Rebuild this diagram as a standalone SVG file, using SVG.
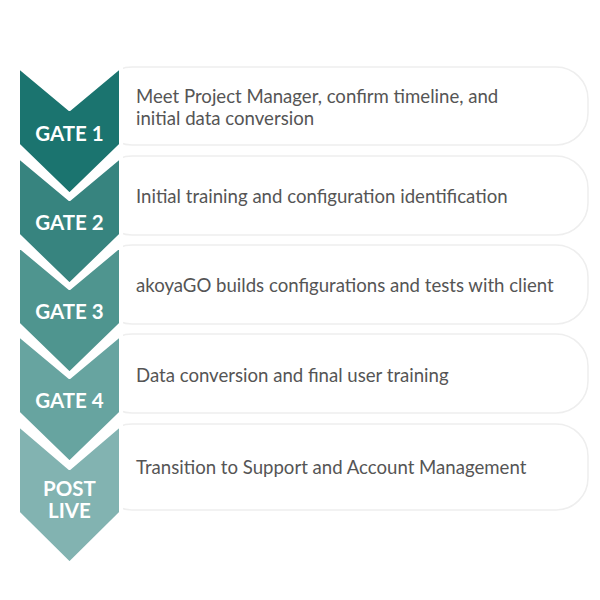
<svg xmlns="http://www.w3.org/2000/svg" width="600" height="600" viewBox="0 0 600 600">
<style>
.card{fill:#fff;stroke:#eeeeee;stroke-width:1.5}
.chev{stroke:#fff;stroke-width:4;stroke-linejoin:round}
.lbl{font-family:Lato,"Liberation Sans",sans-serif;font-weight:bold;font-size:20.5px;fill:#fff;text-anchor:middle}
.txt{font-family:Lato,"Liberation Sans",sans-serif;font-size:18.6px;fill:#555}
</style>
<rect width="600" height="600" fill="#fff"/>
<g id="cards">
<rect class="card" x="100" y="67" width="488" height="78" rx="32"/>
<rect class="card" x="100" y="156" width="488" height="79" rx="32"/>
<rect class="card" x="100" y="245" width="488" height="79" rx="32"/>
<rect class="card" x="100" y="334" width="488" height="79" rx="32"/>
<rect class="card" x="100" y="424" width="488" height="86" rx="32"/>
</g>
<g id="post">
<path class="chev" fill="#82b3b1" d="M18,424 L69.5,468 L121,424 L121,513 L69.5,564 L18,513 Z"/>
<text class="lbl" x="69.5" y="496" font-size="19.5">POST</text><text class="lbl" x="69.5" y="518" font-size="19.5">LIVE</text>
<text class="txt" x="136" y="474">Transition to Support and Account Management</text>
</g>
<g id="gate4">
<path class="chev" fill="#67a4a0" d="M18,334 L69.5,377 L121,334 L121,413 L69.5,463 L18,413 Z"/>
<text class="lbl" x="69.5" y="408">GATE 4</text>
<text class="txt" x="136" y="382">Data conversion and final user training</text>
</g>
<g id="gate3">
<path class="chev" fill="#4f958f" d="M18,245 L69.5,288 L121,245 L121,324 L69.5,374 L18,324 Z"/>
<text class="lbl" x="69.5" y="319">GATE 3</text>
<text class="txt" x="136" y="292">akoyaGO builds configurations and tests with client</text>
</g>
<g id="gate2">
<path class="chev" fill="#37847f" d="M18,156 L69.5,199 L121,156 L121,235 L69.5,285 L18,235 Z"/>
<text class="lbl" x="69.5" y="230">GATE 2</text>
<text class="txt" x="136" y="203">Initial training and configuration identification</text>
</g>
<g id="gate1">
<path class="chev" fill="#1b746f" d="M18,66 L69.5,109 L121,66 L121,145 L69.5,195 L18,145 Z"/>
<text class="lbl" x="69.5" y="141">GATE 1</text>
<text class="txt" x="136" y="103">Meet Project Manager, confirm timeline, and</text>
<text class="txt" x="136" y="125">initial data conversion</text>
</g>
</svg>
